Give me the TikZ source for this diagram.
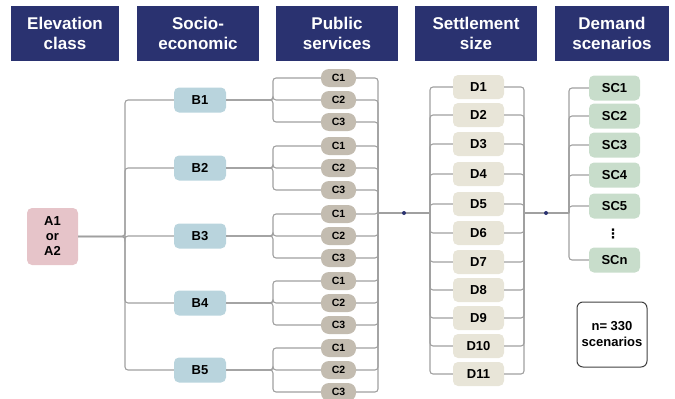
\documentclass[tikz,border=0pt]{standalone}
\usepackage{fontspec}
\setmainfont{Liberation Sans}
\newfontfamily\symfont{DejaVu Sans}
\begin{document}
\definecolor{headblue}{HTML}{2A3270}
\definecolor{apink}{HTML}{E6C4C9}
\definecolor{bblue}{HTML}{B9D4DD}
\definecolor{cgray}{HTML}{C3BCB0}
\definecolor{dbeige}{HTML}{E8E5D8}
\definecolor{scgreen}{HTML}{C8DDCB}
\definecolor{linegray}{HTML}{A0A0A0}
\begin{tikzpicture}[x=1pt,y=-1pt,
  header/.style={fill=headblue,text=white,font=\bfseries\fontsize{17}{20.5}\selectfont,
    align=center,minimum height=55pt,inner sep=0pt},
  box/.style={font=\bfseries\fontsize{13}{15}\selectfont,inner sep=0pt,
    rounded corners=5pt,minimum width=51pt,minimum height=25pt},
  anode/.style={box,fill=apink,align=center,minimum height=57pt},
  bnode/.style={box,fill=bblue,minimum width=52pt},
  cnode/.style={font=\bfseries\fontsize{10.5}{12}\selectfont,fill=cgray,inner sep=0pt,
    rounded corners=8pt,minimum width=35pt,minimum height=18pt},
  dnode/.style={box,fill=dbeige,minimum height=24pt},
  scnode/.style={box,fill=scgreen},
  conn/.style={draw=linegray,line width=1.1pt,rounded corners=3pt},
  jdot/.style={circle,fill=headblue,inner sep=0pt,minimum size=4pt}]
\useasboundingbox (0,0) rectangle (675,399);

% column headings
\node[header,minimum width=108pt] (h1) at (65,33.5) {Elevation\\class};
\node[header,minimum width=122pt] (h2) at (198,33.5) {Socio-\\economic};
\node[header,minimum width=122pt] (h3) at (337,33.5) {Public\\services};
\node[header,minimum width=122pt] (h4) at (476,33.5) {Settlement\\size};
\node[header,minimum width=114pt] (h5) at (612,33.5) {Demand\\scenarios};

% elevation class
\node[anode] (A) at (52.5,236.5) {A1\\or\\A2};

% socio-economic classes with their public-service branches
\foreach \i/\y in {1/100,2/168,3/236,4/303,5/370}{
  \node[bnode] (B\i) at (200,\y) {B\i};
  \draw[conn] (A.east) -- (125,236.5) |- (B\i.west);
  \foreach \j/\dy in {1/-22,2/0,3/22}{
    \node[cnode] (C\i\j) at (338.5,\y+\dy) {C\j};
    \draw[conn] (B\i.east) -- (273,\y) |- (C\i\j.west);
  }
}

% junction between public services and settlement size
\coordinate (jC) at (378,213);
\coordinate (jD) at (430,213);
\foreach \i in {1,...,5}{
  \foreach \j in {1,2,3}{
    \draw[conn] (C\i\j.east) -| (jC);
  }
}
\draw[conn] (jC) -- (jD);
\node[jdot] (dot1) at (404,213) {};

% settlement sizes
\foreach \k/\y in {1/87,2/115,3/144,4/174,5/204,6/233,7/262,8/290,9/318,10/346,11/374}{
  \node[dnode] (D\k) at (478.5,\y) {D\k};
  \draw[conn] (jD) |- (D\k.west);
}

% junction between settlement size and demand scenarios
\coordinate (jE) at (524,213);
\coordinate (jF) at (569,213);
\foreach \k in {1,...,11}{
  \draw[conn] (D\k.east) -| (jE);
}
\draw[conn] (jE) -- (jF);
\node[jdot] (dot2) at (546,213) {};

% demand scenarios
\foreach \k/\y in {1/88,2/116,3/145,4/175,5/206}{
  \node[scnode] (SC\k) at (614.5,\y) {SC\k};
  \draw[conn] (jF) |- (SC\k.west);
}
\node[font=\symfont\bfseries\fontsize{13}{15}\selectfont,inner sep=0pt] (vdots) at (613,234) {⋮};
\node[scnode] (SCn) at (614.5,260) {SCn};
\draw[conn] (jF) |- (SCn.west);

% total count
\node[draw=black!75,line width=1pt,rounded corners=6pt,minimum width=70pt,minimum height=65pt,
  font=\bfseries\fontsize{13}{16}\selectfont,align=center,inner sep=0pt] (total) at (612,334.5) {n= 330\\scenarios};
\end{tikzpicture}
\end{document}
